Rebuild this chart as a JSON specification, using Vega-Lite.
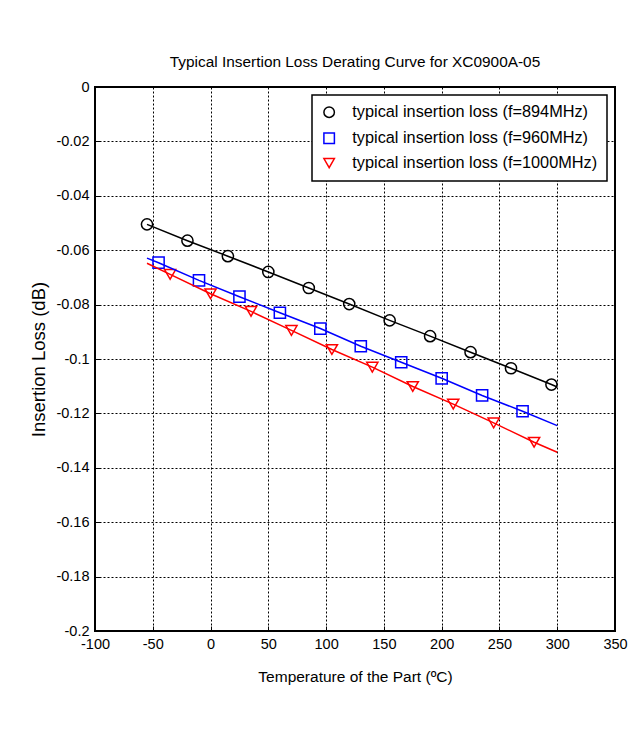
{
  "$schema": "https://vega.github.io/schema/vega-lite/v6.json",
  "autosize": "none",
  "padding": {"left": 95, "top": 87, "right": 26, "bottom": 109},
  "width": 520,
  "height": 544,
  "background": "white",
  "title": {
    "text": "Typical Insertion Loss Derating Curve for XC0900A-05",
    "fontSize": 15.4,
    "font": "Liberation Sans",
    "fontWeight": "normal",
    "color": "black",
    "offset": 9
  },
  "data": {
    "values": [
      {"series": "typical insertion loss (f=894MHz)", "T": -55, "loss": -0.0505, "kind": "marker"},
      {"series": "typical insertion loss (f=894MHz)", "T": -20, "loss": -0.0565, "kind": "marker"},
      {"series": "typical insertion loss (f=894MHz)", "T": 15, "loss": -0.0622, "kind": "marker"},
      {"series": "typical insertion loss (f=894MHz)", "T": 50, "loss": -0.0680, "kind": "marker"},
      {"series": "typical insertion loss (f=894MHz)", "T": 85, "loss": -0.0739, "kind": "marker"},
      {"series": "typical insertion loss (f=894MHz)", "T": 120, "loss": -0.0798, "kind": "marker"},
      {"series": "typical insertion loss (f=894MHz)", "T": 155, "loss": -0.0858, "kind": "marker"},
      {"series": "typical insertion loss (f=894MHz)", "T": 190, "loss": -0.0916, "kind": "marker"},
      {"series": "typical insertion loss (f=894MHz)", "T": 225, "loss": -0.0975, "kind": "marker"},
      {"series": "typical insertion loss (f=894MHz)", "T": 260, "loss": -0.1034, "kind": "marker"},
      {"series": "typical insertion loss (f=894MHz)", "T": 295, "loss": -0.1094, "kind": "marker"},
      {"series": "typical insertion loss (f=894MHz)", "T": 300, "loss": -0.1103, "kind": "line"},
      {"series": "typical insertion loss (f=960MHz)", "T": -55, "loss": -0.0629, "kind": "line"},
      {"series": "typical insertion loss (f=960MHz)", "T": -45, "loss": -0.0646, "kind": "marker"},
      {"series": "typical insertion loss (f=960MHz)", "T": -10, "loss": -0.0711, "kind": "marker"},
      {"series": "typical insertion loss (f=960MHz)", "T": 25, "loss": -0.0771, "kind": "marker"},
      {"series": "typical insertion loss (f=960MHz)", "T": 60, "loss": -0.0830, "kind": "marker"},
      {"series": "typical insertion loss (f=960MHz)", "T": 95, "loss": -0.0888, "kind": "marker"},
      {"series": "typical insertion loss (f=960MHz)", "T": 130, "loss": -0.0953, "kind": "marker"},
      {"series": "typical insertion loss (f=960MHz)", "T": 165, "loss": -0.1012, "kind": "marker"},
      {"series": "typical insertion loss (f=960MHz)", "T": 200, "loss": -0.1071, "kind": "marker"},
      {"series": "typical insertion loss (f=960MHz)", "T": 235, "loss": -0.1134, "kind": "marker"},
      {"series": "typical insertion loss (f=960MHz)", "T": 270, "loss": -0.1192, "kind": "marker"},
      {"series": "typical insertion loss (f=960MHz)", "T": 300, "loss": -0.1245, "kind": "line"},
      {"series": "typical insertion loss (f=1000MHz)", "T": -55, "loss": -0.0648, "kind": "line"},
      {"series": "typical insertion loss (f=1000MHz)", "T": -35, "loss": -0.0689, "kind": "marker"},
      {"series": "typical insertion loss (f=1000MHz)", "T": 0, "loss": -0.0760, "kind": "marker"},
      {"series": "typical insertion loss (f=1000MHz)", "T": 35, "loss": -0.0825, "kind": "marker"},
      {"series": "typical insertion loss (f=1000MHz)", "T": 70, "loss": -0.0895, "kind": "marker"},
      {"series": "typical insertion loss (f=1000MHz)", "T": 105, "loss": -0.0965, "kind": "marker"},
      {"series": "typical insertion loss (f=1000MHz)", "T": 140, "loss": -0.1030, "kind": "marker"},
      {"series": "typical insertion loss (f=1000MHz)", "T": 175, "loss": -0.1101, "kind": "marker"},
      {"series": "typical insertion loss (f=1000MHz)", "T": 210, "loss": -0.1166, "kind": "marker"},
      {"series": "typical insertion loss (f=1000MHz)", "T": 245, "loss": -0.1235, "kind": "marker"},
      {"series": "typical insertion loss (f=1000MHz)", "T": 280, "loss": -0.1306, "kind": "marker"},
      {"series": "typical insertion loss (f=1000MHz)", "T": 300, "loss": -0.1343, "kind": "line"}
    ]
  },
  "encoding": {
    "x": {
      "field": "T", "type": "quantitative",
      "scale": {"domain": [-100, 350], "nice": false, "zero": false},
      "axis": {"title": "Temperature of the Part (ºC)", "values": [-100, -50, 0, 50, 100, 150, 200, 250, 300, 350], "titlePadding": 19, "titleFontSize": 15.5, "labelExpr": "replace(datum.label, '\u2212', '-')"}
    },
    "y": {
      "field": "loss", "type": "quantitative",
      "scale": {"domain": [-0.2, 0], "nice": false, "zero": false},
      "axis": {"title": "Insertion Loss (dB)", "values": [-0.2, -0.18, -0.16, -0.14, -0.12, -0.1, -0.08, -0.06, -0.04, -0.02, 0], "format": "~g", "labelExpr": "replace(datum.label, '\u2212', '-')", "titlePadding": 7, "titleFontSize": 18.5}
    },
    "color": {
      "field": "series", "type": "nominal",
      "scale": {
        "domain": ["typical insertion loss (f=894MHz)", "typical insertion loss (f=960MHz)", "typical insertion loss (f=1000MHz)"],
        "range": ["black", "#0000ff", "#ff0000"]
      },
      "legend": {"title": null}
    }
  },
  "layer": [
    {
      "transform": [{"filter": "datum.kind === 'marker'"}],
      "mark": {"type": "point", "filled": false, "strokeWidth": 1.5, "size": 125, "opacity": 1},
      "encoding": {
        "shape": {
          "field": "series", "type": "nominal",
          "scale": {
            "domain": ["typical insertion loss (f=894MHz)", "typical insertion loss (f=960MHz)", "typical insertion loss (f=1000MHz)"],
            "range": ["circle", "square", "triangle-down"]
          },
          "legend": {"title": null}
        }
      }
    },
    {
      "mark": {"type": "line", "strokeWidth": 1.5},
      "encoding": {
        "order": {"field": "T", "type": "quantitative"}
      }
    }
  ],
  "config": {
    "font": "Liberation Sans",
    "view": {"stroke": "black", "strokeWidth": 2},
    "axis": {
      "domain": false,
      "grid": true,
      "gridColor": "black",
      "gridDash": [2, 2],
      "gridWidth": 1,
      "gridOpacity": 1,
      "ticks": true,
      "tickSize": -5,
      "tickColor": "black",
      "labelPadding": 11,
      "labelFontSize": 14.5,
      "labelColor": "black",
      "titleFontWeight": "normal",
      "titleColor": "black",
      "labelFlush": false,
      "labelOverlap": false
    },
    "legend": {
      "orient": "top-right",
      "offset": 8,
      "strokeColor": "black",
      "strokeWidth": 1.5,
      "fillColor": "white",
      "padding": 9,
      "labelFontSize": 16.3,
      "labelColor": "black",
      "labelLimit": 400,
      "symbolSize": 110,
      "symbolStrokeWidth": 1.5,
      "symbolFillColor": "transparent",
      "rowPadding": 8,
      "labelOffset": 15
    }
  }
}
